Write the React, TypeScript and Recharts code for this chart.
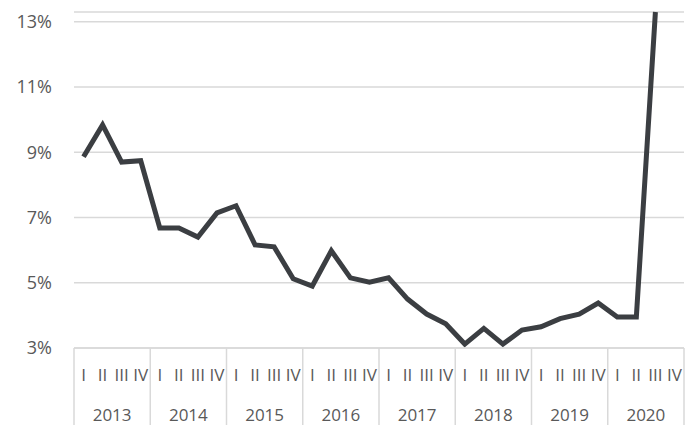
import { CartesianGrid, Line, LineChart, XAxis, YAxis } from "recharts";

const years = ["2013", "2014", "2015", "2016", "2017", "2018", "2019", "2020"];
const quarters = ["I", "II", "III", "IV"];
// unemployment rate, % (2013 Q1 .. 2020 Q3)
const rates = [
  8.86, 9.84, 8.7, 8.74,
  6.68, 6.68, 6.4, 7.14,
  7.36, 6.16, 6.1, 5.12,
  4.9, 5.98, 5.15, 5.02,
  5.15, 4.5, 4.04, 3.74,
  3.12, 3.6, 3.12, 3.55,
  3.65, 3.9, 4.04, 4.38,
  3.95, 3.95, 13.3,
];
const yTicks = [3, 5, 7, 9, 11, 13];

const data = years.flatMap((year, yi) =>
  quarters.map((q, qi) => ({
    key: `${year}-${q}`,
    year,
    q,
    rate: rates[yi * 4 + qi] ?? null,
  }))
);

const TEXT = "#595959";
const GRID = "#d9d9d9";
const FONT = "'Open Sans', sans-serif";

const QuarterTick = (props: any) => {
  const { x, y, payload } = props;
  const idx = payload.index ?? props.index;
  const half = payload.offset ?? 0;
  const row = data[idx];
  if (!row) return null;
  const first = row.q === "I";
  const last = idx === data.length - 1;
  return (
    <g>
      <text x={x} y={y + 33} textAnchor="middle" fill={TEXT} fontSize={17} fontFamily={FONT}>
        {row.q}
      </text>
      {first && (
        <>
          <line x1={x - half} x2={x - half} y1={y} y2={y + 77} stroke={GRID} strokeWidth={1.5} />
          <text x={x + 3 * half} y={y + 73} textAnchor="middle" fill={TEXT} fontSize={17} fontFamily={FONT}>
            {row.year}
          </text>
        </>
      )}
      {last && <line x1={x + half} x2={x + half} y1={y} y2={y + 77} stroke={GRID} strokeWidth={1.5} />}
    </g>
  );
};

export default function App() {
  return (
    <div style={{ position: "fixed", left: 0, top: 0, background: "#fff" }}>
      <LineChart width={692} height={425} data={data} margin={{ top: 12, right: 8, left: 0, bottom: 0 }}>
        <CartesianGrid vertical={false} stroke={GRID} strokeWidth={1.5} />
        <XAxis
          dataKey="key"
          scale="band"
          interval={0}
          height={77}
          tickLine={false}
          axisLine={{ stroke: GRID, strokeWidth: 1.5 }}
          tickSize={0}
          tickMargin={0}
          tick={<QuarterTick />}
        />
        <YAxis
          width={74}
          domain={[3, "dataMax"]}
          ticks={yTicks}
          tickFormatter={(v) => `${v}%`}
          tickLine={false}
          axisLine={false}
          tickSize={0}
          tickMargin={22}
          tick={{ fill: TEXT, fontSize: 18, fontFamily: FONT }}
        />
        <Line
          type="linear"
          dataKey="rate"
          stroke="#3b3e42"
          strokeWidth={5}
          dot={false}
          isAnimationActive={false}
        />
      </LineChart>
    </div>
  );
}
